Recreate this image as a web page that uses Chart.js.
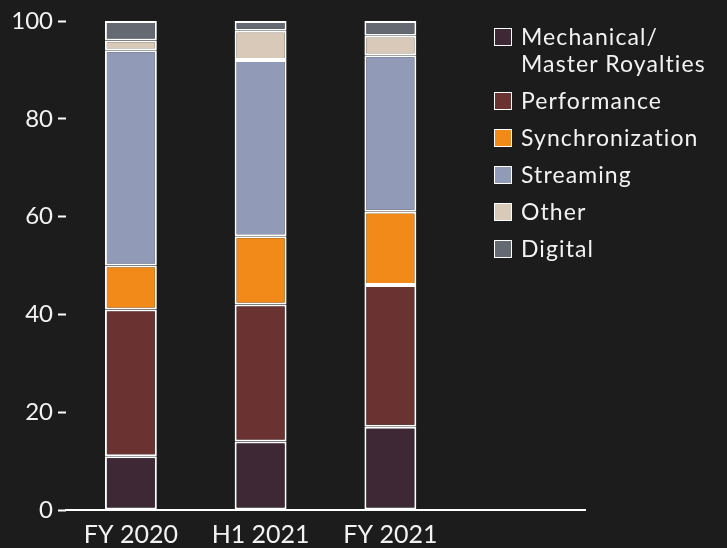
<!DOCTYPE html>
<html>
<head>
<meta charset="utf-8">
<script src="https://cdn.jsdelivr.net/npm/chart.js@4"></script>
<style>
  html, body { margin: 0; padding: 0; }
  body { width: 727px; height: 548px; background: #1c1c1c; overflow: hidden; position: relative;
         font-family: "Lato", "Open Sans", sans-serif; }
  #wrap { position: absolute; left: 0; top: 0; width: 727px; height: 548px; }
  #legend { position: absolute; left: 494px; top: 23px; color: #f2f2f2; font-size: 23px; letter-spacing: 1.1px; }
  .item { display: flex; align-items: flex-start; margin-bottom: 10px; line-height: 27px; }
  .sw { width: 16px; height: 16px; border: 1px solid #fff; margin-top: 5px; margin-right: 9px; flex: none; }
</style>
</head>
<body>
<div id="wrap"><canvas id="c" width="727" height="548"></canvas></div>
<div id="legend"></div>
<script>
const categories = ["FY 2020", "H1 2021", "FY 2021", ""];
const seriesNames = ["Mechanical/\nMaster Royalties", "Performance", "Synchronization", "Streaming", "Other", "Digital"];
const mechanical = [11, 14, 17, null];
const performance = [30, 28, 29, null];
const synchronization = [9, 14, 15, null];
const streaming = [44, 36, 32, null];
const other = [2, 6, 4, null];
const digital = [4, 2, 3, null];
const yTicks = [0, 20, 40, 60, 80, 100];
const colors = ["#3e2835", "#6a3230", "#f28a1a", "#919bb8", "#d9c9b9", "#656a72"];

const seriesValues = [mechanical, performance, synchronization, streaming, other, digital];
const datasets = seriesValues.map((vals, i) => ({
  label: seriesNames[i],
  data: vals,
  backgroundColor: colors[i],
  borderColor: "#ffffff",
  borderWidth: 2,
  borderSkipped: false,
  categoryPercentage: 0.8,
  barPercentage: 0.5
}));

const FONT = "Lato, 'Open Sans', sans-serif";
new Chart(document.getElementById("c"), {
  type: "bar",
  data: { labels: categories, datasets },
  options: {
    responsive: false,
    animation: false,
    layout: { padding: { left: 0, right: 142, top: 21, bottom: 0 } },
    plugins: { legend: { display: false }, tooltip: { enabled: false } },
    scales: {
      x: {
        stacked: true,
        grid: { display: false, drawTicks: false },
        border: { display: true, color: "#ffffff", width: 2 },
        ticks: { color: "#f2f2f2", font: { family: FONT, size: 25 }, padding: 10, maxRotation: 0 },
        afterFit: s => { s.height = 38; }
      },
      y: {
        stacked: true,
        min: 0, max: 100,
        afterBuildTicks: s => { s.ticks = yTicks.map(v => ({ value: v })); },
        grid: { drawOnChartArea: false, drawTicks: true, tickLength: 8, color: "#ffffff", tickColor: "#ffffff", tickWidth: 2 },
        border: { display: false },
        ticks: { color: "#f2f2f2", font: { family: FONT, size: 24 }, padding: 5 },
        afterFit: s => { s.width = 66; }
      }
    }
  }
});

const legend = document.getElementById("legend");
seriesNames.forEach((name, i) => {
  const row = document.createElement("div");
  row.className = "item";
  const sw = document.createElement("div");
  sw.className = "sw";
  sw.style.background = colors[i];
  const t = document.createElement("div");
  t.innerHTML = name.replace("\n", "<br>");
  row.appendChild(sw); row.appendChild(t);
  legend.appendChild(row);
});
</script>
</body>
</html>
